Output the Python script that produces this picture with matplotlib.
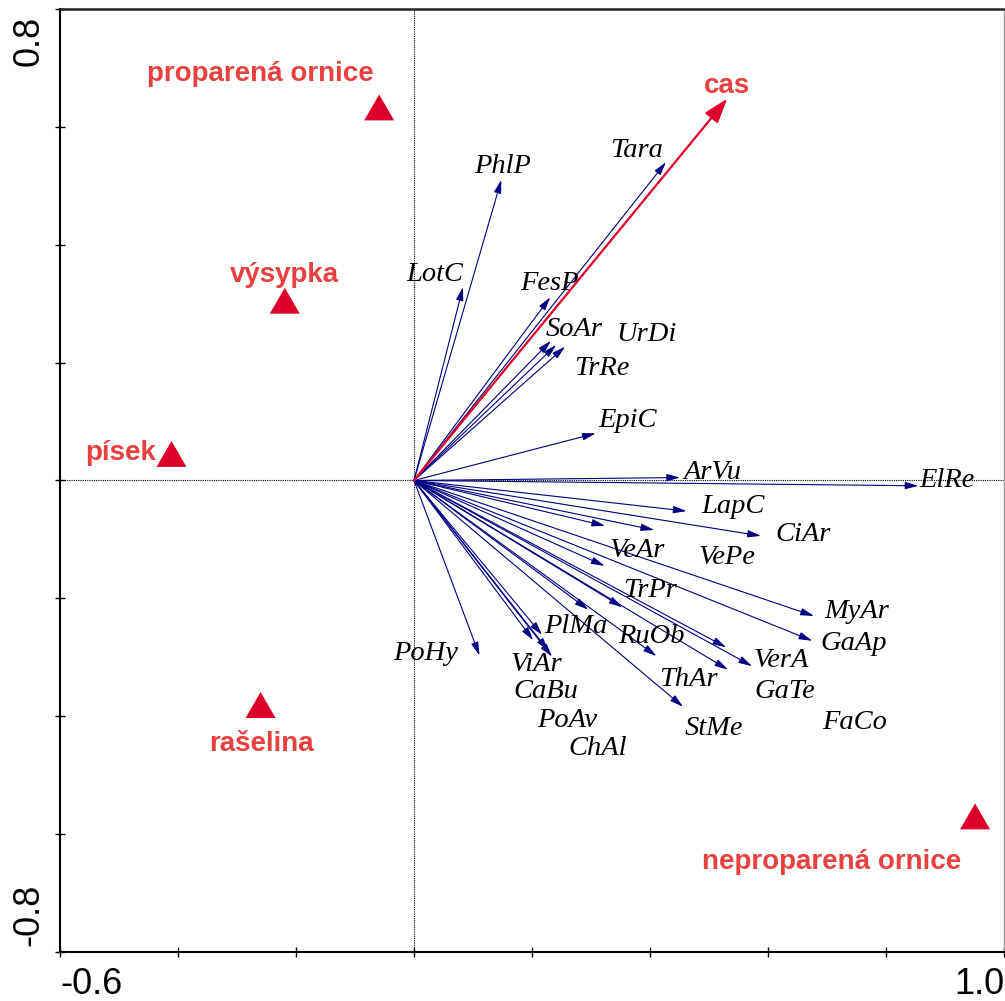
import matplotlib
matplotlib.use("Agg")
import matplotlib.pyplot as plt
from matplotlib import font_manager

# ---- ordination scores -------------------------------------------------
species = ["Tara", "PhlP", "LotC", "FesP", "SoAr", "UrDi", "TrRe", "EpiC",
           "ArVu", "ElRe", "LapC", "VeAr", "VePe", "CiAr", "TrPr", "MyAr",
           "GaAp", "PlMa", "RuOb", "VerA", "GaTe", "FaCo", "ThAr", "StMe",
           "PoHy", "ViAr", "CaBu", "PoAv", "ChAl"]
species_x = [0.427, 0.148, 0.083, 0.231, 0.232, 0.241, 0.256, 0.308,
             0.451, 0.855, 0.462, 0.324, 0.407, 0.588, 0.323, 0.678,
             0.675, 0.295, 0.353, 0.529, 0.573, 0.532, 0.411, 0.456,
             0.111, 0.202, 0.217, 0.228, 0.234]
species_y = [0.540, 0.510, 0.328, 0.311, 0.237, 0.230, 0.227, 0.080,
             0.005, -0.009, -0.052, -0.077, -0.084, -0.094, -0.145, -0.230,
             -0.272, -0.219, -0.215, -0.283, -0.315, -0.321, -0.298, -0.384,
             -0.297, -0.271, -0.262, -0.289, -0.299]
# label anchor points (baseline centre)
species_lx = [0.378, 0.150, 0.035, 0.229, 0.272, 0.394, 0.319, 0.362,
              0.506, 0.904, 0.541, 0.378, 0.531, 0.659, 0.400, 0.750,
              0.746, 0.275, 0.402, 0.622, 0.629, 0.746, 0.465, 0.508,
              0.019, 0.207, 0.224, 0.260, 0.312]
species_ly = [0.549, 0.522, 0.339, 0.323, 0.245, 0.237, 0.179, 0.091,
              0.003, -0.011, -0.055, -0.130, -0.142, -0.103, -0.198, -0.233,
              -0.288, -0.259, -0.276, -0.317, -0.369, -0.422, -0.349, -0.432,
              -0.305, -0.323, -0.369, -0.418, -0.466]

env_name = "cas"
env_x, env_y = 0.531, 0.648
env_lx, env_ly = 0.530, 0.658

sites = ["proparená ornice", "výsypka", "písek", "rašelina", "neproparená ornice"]
site_x = [-0.059, -0.219, -0.411, -0.260, 0.951]
site_y = [0.633, 0.305, 0.045, -0.381, -0.570]
site_lx = [-0.261, -0.219, -0.497, -0.259, 0.708]
site_ly = [0.677, 0.336, 0.035, -0.459, -0.660]

x_ticks = [-0.6, -0.4, -0.2, 0.0, 0.2, 0.4, 0.6, 0.8, 1.0]
y_ticks = [-0.8, -0.6, -0.4, -0.2, 0.0, 0.2, 0.4, 0.6, 0.8]
x_end_labels = ["-0.6", "1.0"]
y_end_labels = ["-0.8", "0.8"]

# ---- styling -----------------------------------------------------------
NAVY = "#000080"
RED_ARROW = "#e0002a"
RED_MARK = "#dc0028"
RED_TEXT = "#e84040"

installed = {f.name for f in font_manager.fontManager.ttflist}
if "Liberation Sans Narrow" in installed:
    sans, tick_size, bold_size = "Liberation Sans Narrow", 30, 24
else:
    sans, tick_size, bold_size = "Liberation Sans", 26, 20
serif = "Liberation Serif"

fig = plt.figure(figsize=(10.05, 10.01), dpi=100)
ax = fig.add_axes([0.0597, 0.049, 0.9393, 0.942])
ax.set_xlim(-0.6, 1.0)
ax.set_ylim(-0.8, 0.8)

# zero lines
ax.axhline(0, color="black", lw=0.8, ls=(0, (1, 1)), zorder=1)
ax.axvline(0, color="black", lw=0.8, ls=(0, (1, 1)), zorder=1)

# species arrows
for sx, sy in zip(species_x, species_y):
    ax.annotate("", xy=(sx, sy), xytext=(0, 0),
                arrowprops=dict(arrowstyle="-|>,head_length=0.8,head_width=0.22",
                                mutation_scale=10, color=NAVY, lw=0.8,
                                shrinkA=0, shrinkB=0), zorder=2)
for name, lx, ly in zip(species, species_lx, species_ly):
    ax.text(lx, ly, name, ha="center", va="baseline", style="italic",
            family=serif, fontsize=20.5, color="black", zorder=4)

# environmental arrow
ax.annotate("", xy=(env_x, env_y), xytext=(0, 0),
            arrowprops=dict(arrowstyle="-|>,head_length=1.5,head_width=0.5",
                            mutation_scale=10, color=RED_ARROW, lw=1.6,
                            shrinkA=0, shrinkB=0), zorder=3)
ax.text(env_lx, env_ly, env_name, ha="center", va="baseline",
        family=sans, fontweight="bold", fontsize=bold_size, color=RED_TEXT)

# site centroids
tri = [(-1, -0.865), (1, -0.865), (0, 0.865)]
ax.scatter(site_x, site_y, marker=tri, s=21.6 ** 2, color=RED_MARK,
           edgecolors="none", zorder=5, clip_on=False)
for name, lx, ly in zip(sites, site_lx, site_ly):
    ax.text(lx, ly, name, ha="center", va="baseline", family=sans,
            fontweight="bold", fontsize=bold_size, color=RED_TEXT)

# axes frame and ticks
for side in ("left", "bottom"):
    ax.spines[side].set_linewidth(1.5)
    ax.spines[side].set_color("black")
ax.spines["top"].set_linewidth(1.8)
ax.spines["top"].set_color("#222222")
ax.spines["right"].set_linewidth(1.0)
ax.spines["right"].set_color("#9a9a9a")

ax.set_xticks(x_ticks)
ax.set_yticks(y_ticks)
ax.set_xticklabels([])
ax.set_yticklabels([])
ax.tick_params(direction="inout", length=7.5, width=1.0, color="black")
ax.tick_params(top=False, right=False)

# end labels of the axes
ax.text(x_ticks[0], -0.872, x_end_labels[0], ha="left", va="baseline",
        family=sans, fontsize=tick_size)
ax.text(x_ticks[-1], -0.872, x_end_labels[1], ha="right", va="baseline",
        family=sans, fontsize=tick_size)
ax.text(-0.623, y_ticks[0] + 0.010, y_end_labels[0], ha="right", va="bottom",
        rotation=90, family=sans, fontsize=tick_size)
ax.text(-0.623, y_ticks[-1] - 0.012, y_end_labels[1], ha="right", va="top",
        rotation=90, family=sans, fontsize=tick_size)

fig.savefig("out.png", dpi=100)
